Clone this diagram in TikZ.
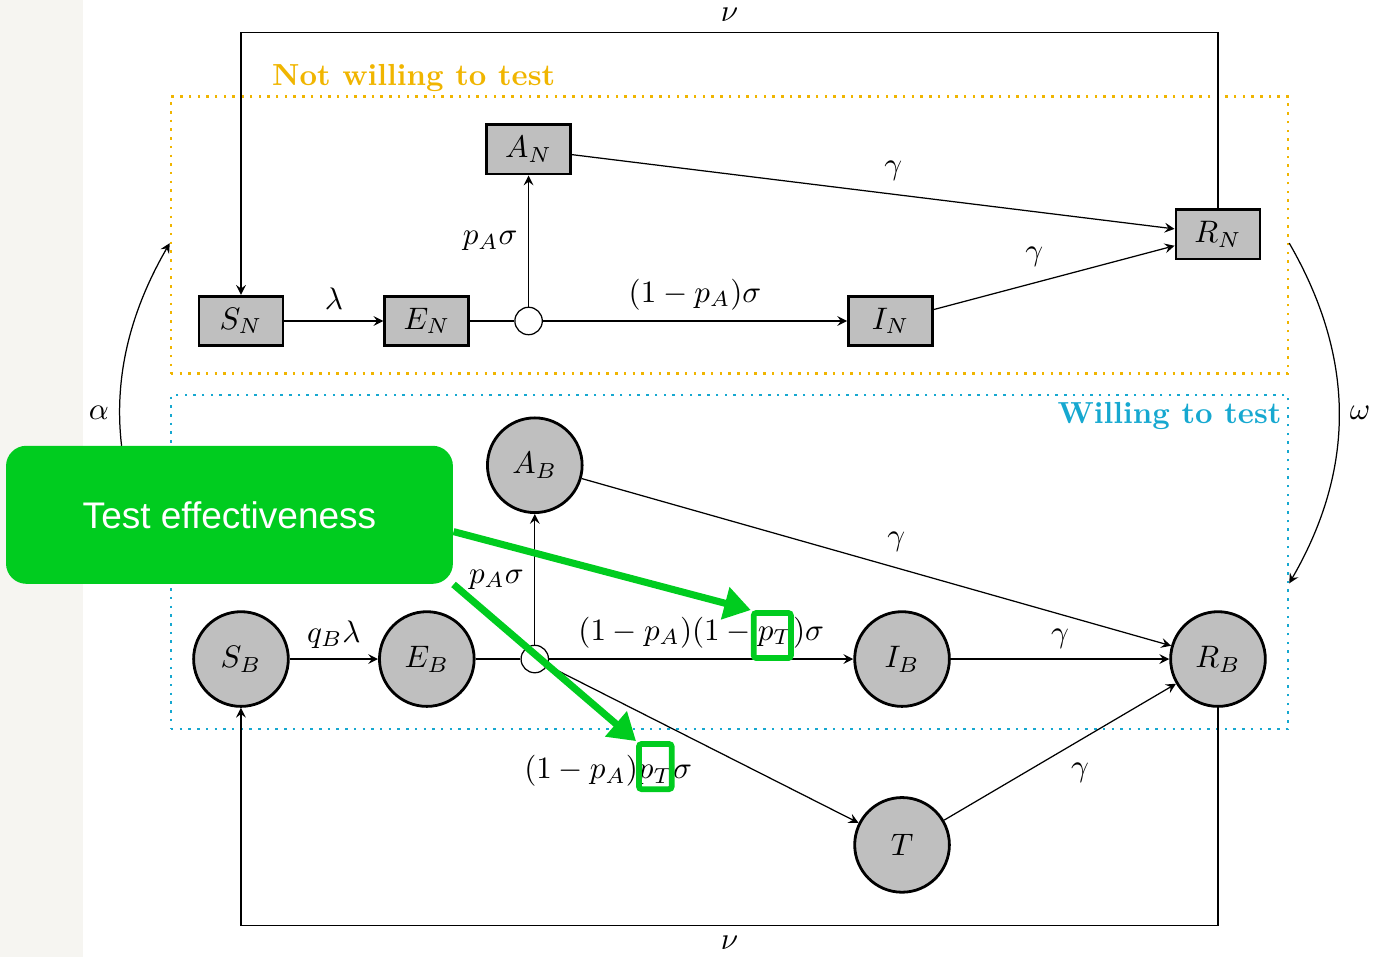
\documentclass[tikz,border=0pt]{standalone}
\usepackage{amsmath}
\usepackage{fontspec}
\newfontfamily\calloutfont{Liberation Sans}
\usepackage{tikz}
\usetikzlibrary{arrows.meta,positioning,fit}
\usetikzlibrary{shapes.geometric, arrows}

\definecolor{nwyellow}{RGB}{240,181,0}
\definecolor{wblue}{RGB}{22,168,208}
\definecolor{calloutgreen}{RGB}{0,204,31}
\definecolor{pagegray}{RGB}{246,245,241}

\begin{document}
\begin{tikzpicture}[node distance=2.1cm]
		\tikzstyle{compN} = [rectangle, minimum width=0.95cm, minimum height=0.56cm, 
		text centered, draw=black, line width=0.9pt, fill=gray!50]
		\tikzstyle{compB} = [circle, minimum size=1.07cm, text centered, draw=black, 
		line width=0.9pt, fill=gray!50]
		\tikzstyle{split} = [circle, minimum size=0.31cm, inner sep=0pt, draw=black, fill=white]
		\tikzstyle{arrow} = [->,>=stealth]
		\tikzstyle{group} = [rectangle, thick, dotted]
		\tikzstyle{hl} = [rectangle, draw=calloutgreen, line width=0.065cm, 
		rounded corners=0.03cm, minimum height=0.51cm, inner sep=0pt]
		\tikzstyle{hlarrow} = [draw=calloutgreen, line width=0.08cm, 
		-{Triangle[length=0.3cm,width=0.36cm]}]
		\useasboundingbox (-2.723,-7.187) rectangle (12.803,3.627);
		\fill [pagegray] (-2.723,-7.187) rectangle (-1.785,3.627);
		% not willing to test
		\node (SN) [compN] {$S_N$};
		\node (EN) [compN, right of=SN] {$E_N$};
		\node (jN) [split, right of=EN, xshift=-0.95cm] {};
		\node (AN) [compN, above of=jN, yshift=-0.16cm] {$A_N$};
		\node (IN) [compN, right of=jN, xshift=1.99cm] {$I_N$};
		\node (RN) [compN, right of=IN, xshift=1.6cm, yshift=0.98cm] {$R_N$};
		% willing to test
		\node (SB) [compB, below of=SN, yshift=-1.72cm] {$S_B$};
		\node (EB) [compB, right of=SB] {$E_B$};
		\node (jB) [split, right of=EB, xshift=-0.88cm] {};
		\node (AB) [compB, above of=jB, yshift=0.09cm] {$A_B$};
		\node (IB) [compB, right of=jB, xshift=2.05cm] {$I_B$};
		\node (RB) [compB, right of=IB, xshift=1.47cm] {$R_B$};
		\node (T) [compB, below of=IB] {$T$};
		\node (nwbox) [group, draw=nwyellow, fit=(SN)(AN)(RN), inner sep=0.3cm] {};
		\node (wbox) [group, draw=wblue, fit=(SB)(AB)(RB), inner sep=0.24cm] {};
		\node (nwlabel) [anchor=base west, inner sep=0pt, text=nwyellow, 
		font=\fontsize{9.8}{11}\selectfont\bfseries] at ([xshift=1.15cm,yshift=0.11cm]nwbox.north west) {Not willing to test};
		\node (wlabel) [anchor=base east, inner sep=0pt, text=wblue, 
		font=\fontsize{9.8}{11}\selectfont\bfseries] at ([xshift=-0.08cm,yshift=-0.33cm]wbox.north east) {Willing to test};
		\draw [arrow] (SN) -- node[above] {$\lambda$} (EN);
		\draw (EN) -- (jN);
		\draw [arrow] (jN) -- node[left] {$p_A\sigma$} (AN);
		\draw [arrow] (jN) -- node[above] {$(1-p_A)\sigma$} (IN);
		\draw [arrow] (AN) -- node[above right] {$\gamma$} (RN);
		\draw [arrow] (IN) -- node[above left] {$\gamma$} (RN);
		\draw [arrow] (RN.north) -- ++(0,1.98) -| node[pos=0.25, above] {$\nu$} (SN.north);
		\draw [arrow] (SB) -- node[above] {$q_B\lambda$} (EB);
		\draw (EB) -- (jB);
		\draw [arrow] (jB) -- node[left] {$p_A\sigma$} (AB);
		\draw [arrow] (jB) -- node[above] (lblI) {$(1-p_A)(1-p_T)\sigma$} (IB);
		\draw [arrow] (jB) -- node[below left] (lblT) {$(1-p_A)p_T\sigma$} (T);
		\draw [arrow] (AB) -- node[above right] {$\gamma$} (RB);
		\draw [arrow] (IB) -- node[above] {$\gamma$} (RB);
		\draw [arrow] (T) -- node[below right] {$\gamma$} (RB);
		\draw [arrow] (RB.south) -- ++(0,-2.46) -| node[pos=0.25, below] {$\nu$} (SB.south);
		% switching between the groups
		\draw [arrow] ([yshift=-0.24cm]wbox.west) to[bend left=30] node[left] {$\alpha$} ([yshift=-0.09cm]nwbox.west);
		\draw [arrow] ([yshift=-0.09cm]nwbox.east) to[bend left=30] node[right] {$\omega$} ([yshift=-0.24cm]wbox.east);
		% callout
		\node (callout) [below of=SN, xshift=-0.13cm, yshift=-0.09cm, rectangle, 
		rounded corners=0.23cm, minimum width=5.05cm, minimum height=1.56cm, fill=calloutgreen, 
		text=white, font=\calloutfont\fontsize{11.9}{14}\selectfont] {Test effectiveness};
		\node (hlI) [hl, minimum width=0.42cm] at ([xshift=2.684cm, yshift=0.266cm]jB) {};
		\node (hlT) [hl, minimum width=0.37cm] at ([xshift=1.362cm, yshift=-1.215cm]jB) {};
		\draw [hlarrow] ([yshift=-0.19cm]callout.east) -- (hlI.north west);
		\draw [hlarrow] (callout.south east) -- (hlT.north west);
\end{tikzpicture}
\end{document}
